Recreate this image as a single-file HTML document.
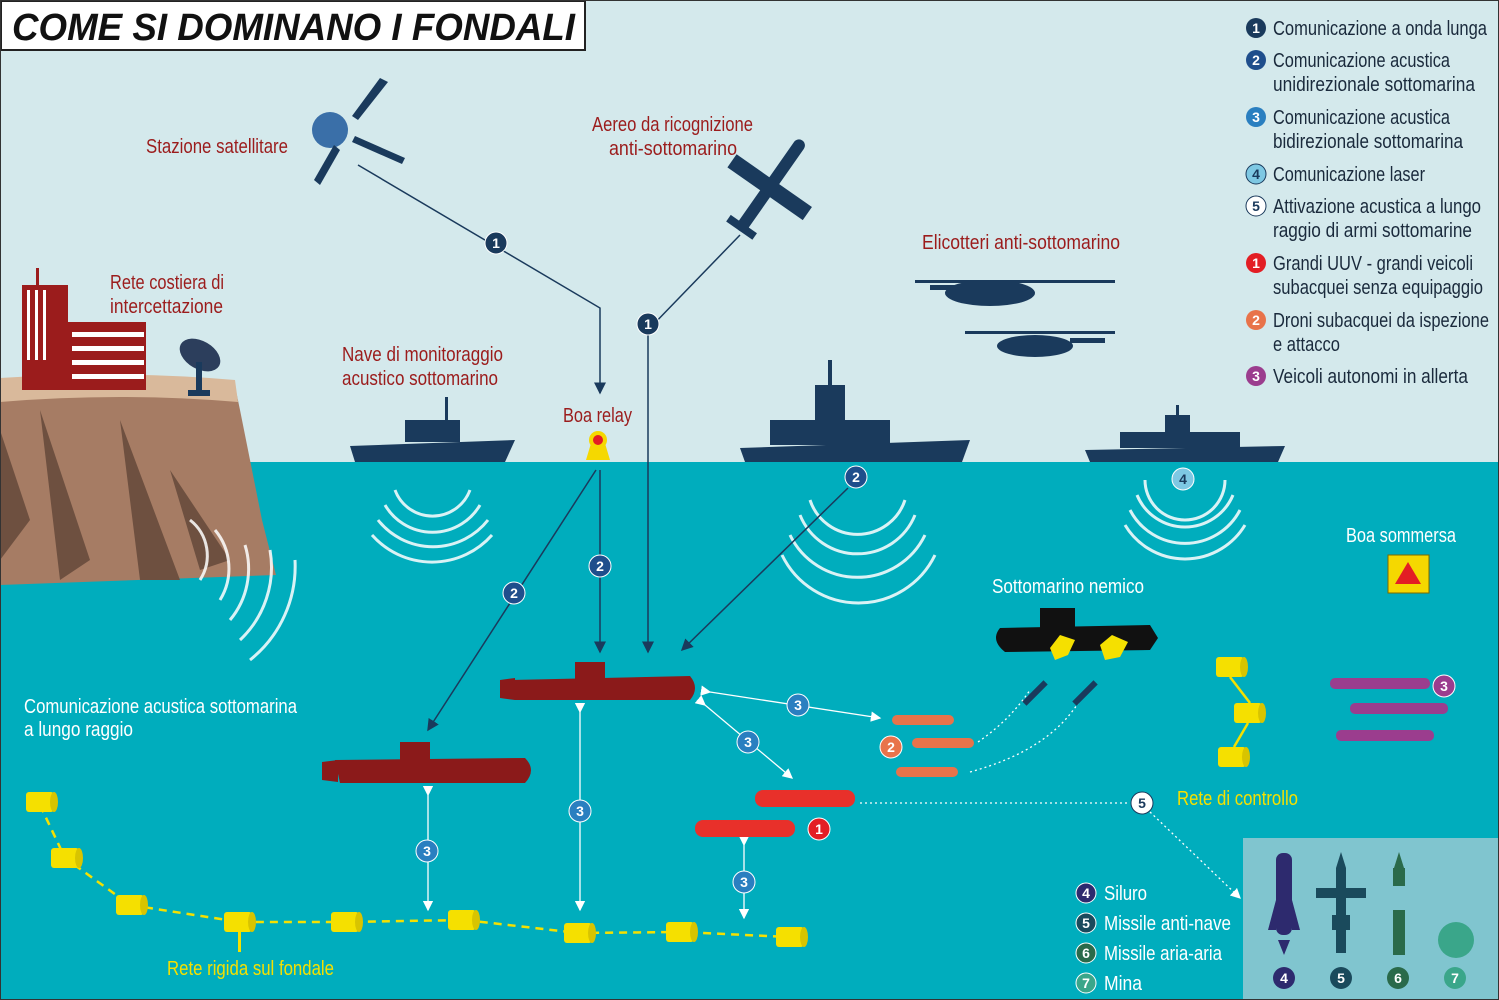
<!DOCTYPE html>
<html><head><meta charset="utf-8"><style>
html,body{margin:0;padding:0;background:#d4e9ec}
svg{display:block}
text{font-family:"Liberation Sans",sans-serif}
</style></head><body>
<svg width="1499" height="1000" viewBox="0 0 1499 1000" xmlns="http://www.w3.org/2000/svg">
<defs>
<marker id="a" markerWidth="8" markerHeight="8" refX="7" refY="4" orient="auto"><path d="M0,0 L8,4 L0,8 Z" fill="#1a3a5c"/></marker>
<marker id="w" markerWidth="8" markerHeight="8" refX="7" refY="4" orient="auto"><path d="M0,0 L8,4 L0,8 Z" fill="#fff"/></marker>
<g id="cyl"><rect x="-14" y="-10" width="28" height="20" rx="3" fill="#f5e000"/><ellipse cx="14" cy="0" rx="4" ry="10" fill="#d8c400"/></g>
</defs>
<rect width="1499" height="1000" fill="#d4e9ec"/>
<rect y="462" width="1499" height="538" fill="#00adbd"/>

<!-- cliff -->
<path d="M0,385 Q120,378 235,386 L240,410 L262,520 L276,575 L0,585 Z" fill="#a67c64"/>
<path d="M40,410 L90,560 L60,580 Z M120,420 L180,580 L140,580 Z M170,470 L230,560 L200,570 Z M0,430 L30,520 L0,560Z" fill="#6e5040"/>
<path d="M0,378 Q120,370 235,380 L238,402 Q120,392 0,402 Z" fill="#d9b99b"/>
<rect x="22" y="285" width="46" height="105" fill="#9b1c1c"/>
<rect x="27" y="290" width="3" height="70" fill="#fff"/><rect x="35" y="290" width="3" height="70" fill="#fff"/><rect x="43" y="290" width="3" height="70" fill="#fff"/>
<rect x="36" y="268" width="3" height="20" fill="#9b1c1c"/>
<rect x="60" y="322" width="86" height="68" fill="#9b1c1c"/>
<g fill="#fff"><rect x="72" y="332" width="72" height="5"/><rect x="72" y="346" width="72" height="5"/><rect x="72" y="360" width="72" height="5"/><rect x="72" y="374" width="72" height="5"/></g>
<ellipse cx="200" cy="355" rx="22" ry="14" fill="#2c3e5c" transform="rotate(30 200 355)"/>
<rect x="196" y="362" width="6" height="30" fill="#1a3a5c"/><rect x="188" y="390" width="22" height="6" fill="#1a3a5c"/>

<!-- title -->
<rect x="1" y="1" width="584" height="49" fill="#fff" stroke="#222" stroke-width="2"/>
<text x="12" y="40" font-size="38" font-weight="bold" font-style="italic" fill="#111" textLength="563" lengthAdjust="spacingAndGlyphs">COME SI DOMINANO I FONDALI</text>

<g fill="#9b1c1c" font-size="20" lengthAdjust="spacingAndGlyphs">
<text x="146" y="153" textLength="142" lengthAdjust="spacingAndGlyphs">Stazione satellitare</text>
<text x="592" y="131" textLength="161" lengthAdjust="spacingAndGlyphs">Aereo da ricognizione</text>
<text x="609" y="155" textLength="128" lengthAdjust="spacingAndGlyphs">anti-sottomarino</text>
<text x="922" y="249" textLength="198" lengthAdjust="spacingAndGlyphs">Elicotteri anti-sottomarino</text>
<text x="110" y="289" textLength="114" lengthAdjust="spacingAndGlyphs">Rete costiera di</text>
<text x="110" y="313" textLength="113" lengthAdjust="spacingAndGlyphs">intercettazione</text>
<text x="342" y="361" textLength="161" lengthAdjust="spacingAndGlyphs">Nave di monitoraggio</text>
<text x="342" y="385" textLength="156" lengthAdjust="spacingAndGlyphs">acustico sottomarino</text>
<text x="563" y="422" textLength="69" lengthAdjust="spacingAndGlyphs">Boa relay</text>
</g>

<!-- satellite -->
<g fill="#1a3a5c"><circle cx="330" cy="130" r="18" fill="#3a6fa8"/>
<polygon points="358,120 388,82 380,78 352,116"/><polygon points="340,150 320,185 314,180 334,145"/>
<polygon points="355,136 405,158 402,164 352,142"/></g>
<g fill="#1a3a5c" transform="rotate(-55 770 185)"><rect x="715" y="180" width="110" height="12" rx="6"/><rect x="760" y="140" width="16" height="92"/><rect x="715" y="170" width="8" height="32"/></g>
<g fill="#1a3a5c">
<ellipse cx="990" cy="293" rx="45" ry="13"/><rect x="915" y="280" width="200" height="3"/><rect x="930" y="285" width="30" height="5"/>
<ellipse cx="1035" cy="346" rx="38" ry="11"/><rect x="965" y="331" width="150" height="3"/><rect x="1070" y="338" width="35" height="5"/>
</g>
<g fill="#1a3a5c">
<path d="M350,446 L515,440 L505,462 L355,462 Z"/><rect x="405" y="420" width="55" height="22"/><rect x="445" y="397" width="3" height="30"/>
<path d="M740,448 L970,440 L962,462 L745,462 Z"/><rect x="770" y="420" width="120" height="25"/><rect x="815" y="385" width="30" height="40"/><rect x="828" y="360" width="4" height="40"/>
<path d="M1085,450 L1285,446 L1278,462 L1090,462 Z"/><rect x="1120" y="432" width="120" height="16"/><rect x="1165" y="415" width="25" height="20"/><rect x="1176" y="405" width="3" height="20"/>
</g>
<path d="M586,460 L610,460 L604,440 L592,440 Z" fill="#f5d800"/><circle cx="598" cy="440" r="9" fill="#f5d800"/><circle cx="598" cy="440" r="5" fill="#e31e24"/>

<!-- sound arcs -->
<g fill="none" stroke="#fff" stroke-width="3" opacity="0.85">
<path d="M395,490 A40,40 0 0 0 470,490"/><path d="M385,505 A55,55 0 0 0 480,505"/><path d="M378,520 A70,70 0 0 0 488,520"/><path d="M372,535 A80,80 0 0 0 492,535"/>
<path d="M810,500 A50,50 0 0 0 905,500"/><path d="M800,515 A62,62 0 0 0 915,515"/><path d="M790,535 A75,75 0 0 0 925,535"/><path d="M782,555 A85,85 0 0 0 935,555"/>
<path d="M1145,480 A40,40 0 0 0 1225,480"/><path d="M1137,495 A52,52 0 0 0 1233,495"/><path d="M1130,510 A62,62 0 0 0 1240,510"/><path d="M1125,525 A70,70 0 0 0 1245,525"/>
<path d="M190,520 A45,45 0 0 1 200,580"/><path d="M215,530 A60,60 0 0 1 220,600"/><path d="M245,545 A80,80 0 0 1 230,620"/><path d="M270,550 A100,100 0 0 1 240,640"/><path d="M295,560 A120,120 0 0 1 250,660"/>
</g>

<g stroke="#1a3a5c" stroke-width="1.5" fill="none" marker-end="url(#a)">
<path d="M358,165 L600,308 L600,393"/>
<path d="M740,235 L648,330 L648,652"/>
<path d="M596,470 L428,730"/>
<path d="M600,470 L600,652"/>
<path d="M848,488 L682,650"/>
</g>
<g stroke="#fff" stroke-width="1.3" fill="none">
<path d="M710,692 L880,718" marker-end="url(#w)" marker-start="url(#w)"/>
<path d="M705,705 L792,778" marker-end="url(#w)" marker-start="url(#w)"/>
<path d="M580,712 L580,910" marker-end="url(#w)" marker-start="url(#w)"/>
<path d="M428,795 L428,910" marker-end="url(#w)" marker-start="url(#w)"/>
<path d="M744,845 L744,918" marker-end="url(#w)" marker-start="url(#w)"/>
<path d="M860,803 L1130,803" stroke-dasharray="2,3"/>
<path d="M1150,812 L1240,898" stroke-dasharray="2,3" marker-end="url(#w)"/>
<path d="M978,742 Q1010,720 1030,690" stroke-dasharray="2,3"/>
<path d="M970,772 Q1050,750 1080,700" stroke-dasharray="2,3"/>
</g>

<g fill="#8b1a1a">
<path d="M510,680 L690,676 Q700,688 690,700 L515,700 Z"/><rect x="575" y="662" width="30" height="18"/><path d="M500,680 L515,678 L515,700 L500,698Z"/>
<path d="M335,760 L525,758 Q537,770 525,783 L340,783 Z"/><rect x="400" y="742" width="30" height="20"/><path d="M322,762 L338,760 L338,782 L322,780Z"/>
</g>
<g fill="#111"><path d="M1000,628 L1150,625 L1158,638 L1150,650 L1005,652 Q990,640 1000,628Z"/><rect x="1040" y="608" width="35" height="22"/></g>
<g fill="#f5e000"><polygon points="1060,635 1075,640 1068,655 1055,660 1050,648"/><polygon points="1112,635 1128,642 1120,657 1105,660 1100,645"/></g>
<g fill="#1a3a5c"><rect x="1020" y="690" width="30" height="6" transform="rotate(-45 1035 693)"/><rect x="1070" y="690" width="30" height="6" transform="rotate(-45 1085 693)"/></g>
<g fill="#e8302a"><rect x="755" y="790" width="100" height="17" rx="8"/><rect x="695" y="820" width="100" height="17" rx="8"/></g>
<g fill="#e8734a"><rect x="892" y="715" width="62" height="10" rx="5"/><rect x="912" y="738" width="62" height="10" rx="5"/><rect x="896" y="767" width="62" height="10" rx="5"/></g>
<g fill="#9b3d8e"><rect x="1330" y="678" width="100" height="11" rx="5"/><rect x="1350" y="703" width="98" height="11" rx="5"/><rect x="1336" y="730" width="98" height="11" rx="5"/></g>

<path d="M40,805 L65,858 L130,905 L240,922 L345,922 L465,920 L578,933 L680,932 L790,937" stroke="#f5e000" stroke-width="2.5" stroke-dasharray="8,6" fill="none"/>
<g><use href="#cyl" x="40" y="802"/><use href="#cyl" x="65" y="858"/><use href="#cyl" x="130" y="905"/><use href="#cyl" x="238" y="922"/><use href="#cyl" x="345" y="922"/><use href="#cyl" x="462" y="920"/><use href="#cyl" x="578" y="933"/><use href="#cyl" x="680" y="932"/><use href="#cyl" x="790" y="937"/>
<use href="#cyl" x="1230" y="667"/><use href="#cyl" x="1248" y="713"/><use href="#cyl" x="1232" y="757"/></g>
<path d="M1230,677 L1250,703 M1248,723 L1234,747" stroke="#f5e000" stroke-width="2.5"/>
<rect x="238" y="930" width="3" height="22" fill="#f5e000"/>

<rect x="1388" y="555" width="41" height="38" fill="#f5d800" stroke="#7a6a00"/><polygon points="1408,562 1421,584 1395,584" fill="#e31e24"/>

<g font-size="20">
<text x="1346" y="542" fill="#fff" textLength="110" lengthAdjust="spacingAndGlyphs">Boa sommersa</text>
<text x="992" y="593" fill="#fff" textLength="152" lengthAdjust="spacingAndGlyphs">Sottomarino nemico</text>
<text x="24" y="713" fill="#fff" textLength="273" lengthAdjust="spacingAndGlyphs">Comunicazione acustica sottomarina</text>
<text x="24" y="736" fill="#fff" textLength="109" lengthAdjust="spacingAndGlyphs">a lungo raggio</text>
<text x="1177" y="805" fill="#f5e000" textLength="121" lengthAdjust="spacingAndGlyphs">Rete di controllo</text>
<text x="167" y="975" fill="#f5e000" textLength="167" lengthAdjust="spacingAndGlyphs">Rete rigida sul fondale</text>
</g>

<g font-size="14" font-weight="bold" text-anchor="middle">
<circle cx="496" cy="243" r="11" fill="#1a3a5c" stroke="#fff"/><text x="496" y="248" fill="#fff">1</text>
<circle cx="648" cy="324" r="11" fill="#1a3a5c" stroke="#fff"/><text x="648" y="329" fill="#fff">1</text>
<circle cx="514" cy="593" r="11" fill="#1f4e8c" stroke="#fff"/><text x="514" y="598" fill="#fff">2</text>
<circle cx="600" cy="566" r="11" fill="#1f4e8c" stroke="#fff"/><text x="600" y="571" fill="#fff">2</text>
<circle cx="856" cy="477" r="11" fill="#1f4e8c" stroke="#fff"/><text x="856" y="482" fill="#fff">2</text>
<circle cx="1183" cy="479" r="11" fill="#7ec8e3" stroke="#fff"/><text x="1183" y="484" fill="#1a3a5c">4</text>
<circle cx="798" cy="705" r="11" fill="#2a7fc0" stroke="#fff"/><text x="798" y="710" fill="#fff">3</text>
<circle cx="748" cy="742" r="11" fill="#2a7fc0" stroke="#fff"/><text x="748" y="747" fill="#fff">3</text>
<circle cx="580" cy="811" r="11" fill="#2a7fc0" stroke="#fff"/><text x="580" y="816" fill="#fff">3</text>
<circle cx="427" cy="851" r="11" fill="#2a7fc0" stroke="#fff"/><text x="427" y="856" fill="#fff">3</text>
<circle cx="744" cy="882" r="11" fill="#2a7fc0" stroke="#fff"/><text x="744" y="887" fill="#fff">3</text>
<circle cx="891" cy="747" r="11" fill="#e8734a" stroke="#fff"/><text x="891" y="752" fill="#fff">2</text>
<circle cx="819" cy="829" r="11" fill="#e31e24" stroke="#fff"/><text x="819" y="834" fill="#fff">1</text>
<circle cx="1444" cy="686" r="11" fill="#9b3d8e" stroke="#fff"/><text x="1444" y="691" fill="#fff">3</text>
<circle cx="1142" cy="803" r="11" fill="#fff" stroke="#1a3a5c"/><text x="1142" y="808" fill="#1a3a5c">5</text>
</g>

<g font-size="20" fill="#1a2a3c">
<text x="1273" y="35" textLength="214" lengthAdjust="spacingAndGlyphs">Comunicazione a onda lunga</text>
<text x="1273" y="67" textLength="177" lengthAdjust="spacingAndGlyphs">Comunicazione acustica</text><text x="1273" y="91" textLength="202" lengthAdjust="spacingAndGlyphs">unidirezionale sottomarina</text>
<text x="1273" y="124" textLength="177" lengthAdjust="spacingAndGlyphs">Comunicazione acustica</text><text x="1273" y="148" textLength="190" lengthAdjust="spacingAndGlyphs">bidirezionale sottomarina</text>
<text x="1273" y="181" textLength="152" lengthAdjust="spacingAndGlyphs">Comunicazione laser</text>
<text x="1273" y="213" textLength="208" lengthAdjust="spacingAndGlyphs">Attivazione acustica a lungo</text><text x="1273" y="237" textLength="199" lengthAdjust="spacingAndGlyphs">raggio di armi sottomarine</text>
<text x="1273" y="270" textLength="200" lengthAdjust="spacingAndGlyphs">Grandi UUV - grandi veicoli</text><text x="1273" y="294" textLength="210" lengthAdjust="spacingAndGlyphs">subacquei senza equipaggio</text>
<text x="1273" y="327" textLength="216" lengthAdjust="spacingAndGlyphs">Droni subacquei da ispezione</text><text x="1273" y="351" textLength="67" lengthAdjust="spacingAndGlyphs">e attacco</text>
<text x="1273" y="383" textLength="195" lengthAdjust="spacingAndGlyphs">Veicoli autonomi in allerta</text>
</g>
<g font-size="14" font-weight="bold" text-anchor="middle">
<circle cx="1256" cy="28" r="10" fill="#1a3a5c"/><text x="1256" y="33" fill="#fff">1</text>
<circle cx="1256" cy="60" r="10" fill="#1f4e8c"/><text x="1256" y="65" fill="#fff">2</text>
<circle cx="1256" cy="117" r="10" fill="#2a7fc0"/><text x="1256" y="122" fill="#fff">3</text>
<circle cx="1256" cy="174" r="10" fill="#7ec8e3" stroke="#1a3a5c"/><text x="1256" y="179" fill="#1a3a5c">4</text>
<circle cx="1256" cy="206" r="10" fill="#fff" stroke="#1a3a5c"/><text x="1256" y="211" fill="#1a3a5c">5</text>
<circle cx="1256" cy="263" r="10" fill="#e31e24"/><text x="1256" y="268" fill="#fff">1</text>
<circle cx="1256" cy="320" r="10" fill="#e8734a"/><text x="1256" y="325" fill="#fff">2</text>
<circle cx="1256" cy="376" r="10" fill="#9b3d8e"/><text x="1256" y="381" fill="#fff">3</text>
</g>

<rect x="1243" y="838" width="256" height="162" fill="#80c5cf"/>
<g fill="#2d2a6e"><rect x="1276" y="853" width="16" height="82" rx="7"/><polygon points="1276,900 1268,930 1276,930"/><polygon points="1292,900 1300,930 1292,930"/><polygon points="1278,940 1290,940 1284,955"/></g>
<g fill="#1a4a5c"><polygon points="1341,852 1346,868 1336,868"/><rect x="1336" y="868" width="10" height="85"/><rect x="1316" y="888" width="50" height="10"/><rect x="1332" y="915" width="18" height="15"/></g>
<g fill="#2a6a4a"><polygon points="1399,852 1404,868 1394,868"/><rect x="1393" y="868" width="12" height="18"/><rect x="1393" y="910" width="12" height="45"/></g>
<circle cx="1456" cy="940" r="18" fill="#3aa68a"/>
<g font-size="14" font-weight="bold" text-anchor="middle" fill="#fff">
<circle cx="1284" cy="978" r="11" fill="#2d2a6e"/><text x="1284" y="983">4</text>
<circle cx="1341" cy="978" r="11" fill="#1a4a5c"/><text x="1341" y="983">5</text>
<circle cx="1398" cy="978" r="11" fill="#2a6a4a"/><text x="1398" y="983">6</text>
<circle cx="1455" cy="978" r="11" fill="#3aa68a"/><text x="1455" y="983">7</text>
<circle cx="1086" cy="893" r="10" fill="#2d2a6e" stroke="#fff"/><text x="1086" y="898">4</text>
<circle cx="1086" cy="923" r="10" fill="#1a4a5c" stroke="#fff"/><text x="1086" y="928">5</text>
<circle cx="1086" cy="953" r="10" fill="#2a6a4a" stroke="#fff"/><text x="1086" y="958">6</text>
<circle cx="1086" cy="983" r="10" fill="#3aa68a" stroke="#fff"/><text x="1086" y="988">7</text>
</g>
<g font-size="20" fill="#fff">
<text x="1104" y="900" textLength="43" lengthAdjust="spacingAndGlyphs">Siluro</text><text x="1104" y="930" textLength="127" lengthAdjust="spacingAndGlyphs">Missile anti-nave</text><text x="1104" y="960" textLength="118" lengthAdjust="spacingAndGlyphs">Missile aria-aria</text><text x="1104" y="990" textLength="38" lengthAdjust="spacingAndGlyphs">Mina</text>
</g>
<rect x="0.5" y="0.5" width="1498" height="999" fill="none" stroke="#333"/>
</svg>
</body></html>
